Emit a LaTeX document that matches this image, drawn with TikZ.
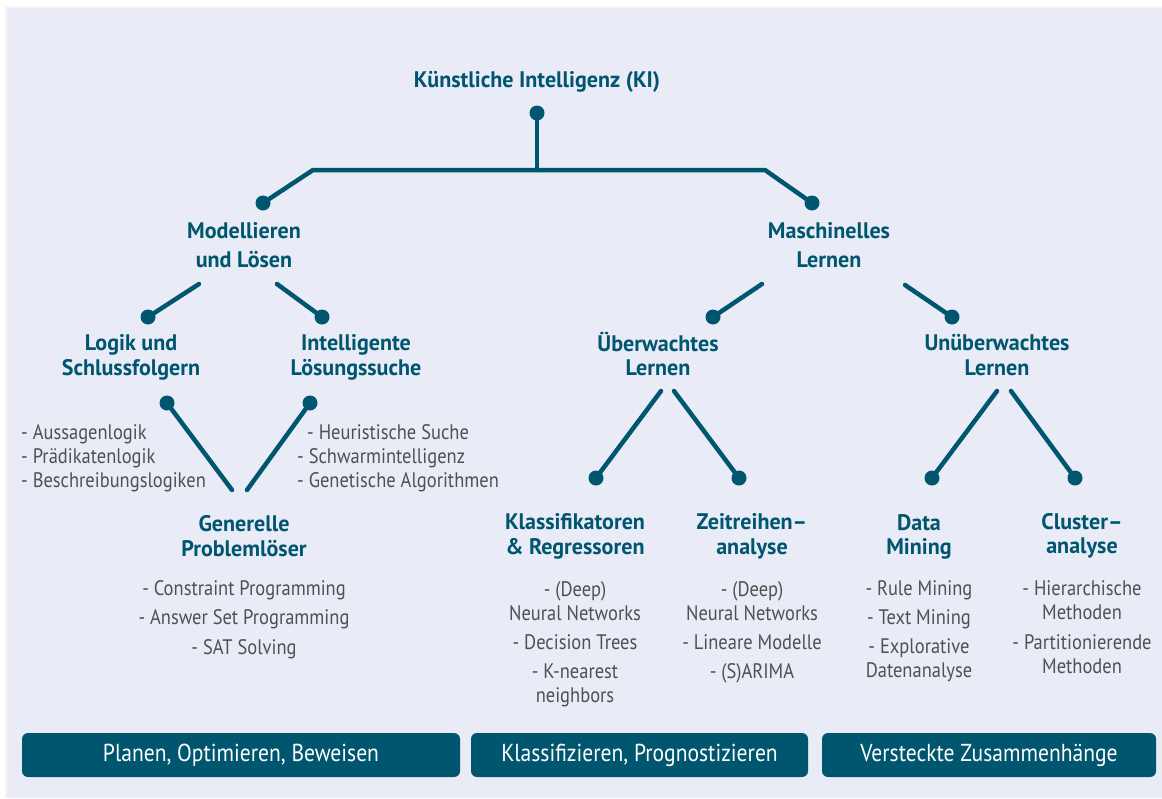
\documentclass[tikz,border=0pt]{standalone}
\usepackage{fontspec}
\setmainfont{PT Sans}
\newfontfamily\headfont{PT Sans}[FakeStretch=0.98]
\newfontfamily\listfont{PT Sans}[FakeStretch=0.88]
\definecolor{kiteal}{HTML}{00566F}
\definecolor{kibg}{HTML}{E9EBF6}
\definecolor{kigrey}{HTML}{505050}
\tikzset{
  head/.style={font=\headfont\bfseries\fontsize{22.5}{24.5}\selectfont, text=kiteal, align=center, inner sep=0pt},
  headtop/.style={head, font=\headfont\bfseries\fontsize{22.5}{29}\selectfont},
  item/.style={font=\listfont\fontsize{21}{24}\selectfont, text=kigrey, align=center, inner sep=0pt},
  dot/.style={circle, fill=kiteal, inner sep=0pt, minimum size=15pt},
  conn/.style={draw=kiteal, line width=4.5pt, line cap=round, line join=round},
  band/.style={fill=kiteal, rounded corners=6pt, inner sep=0pt, minimum height=44pt, text=white, font=\listfont\fontsize{24.5}{26}\selectfont},
}
\begin{document}
\begin{tikzpicture}[x=1pt,y=-1pt]
\useasboundingbox (0,0) rectangle (1162,798);
\fill[white] (0,0) rectangle (1162,798);
\fill[black!4] (5,6) rectangle (1162,798);
\fill[black!7] (7,8) rectangle (1162,798);
\fill[kibg] (8,9) rectangle (1162,798);

% headings
\node[head] (ki) at (537,82) {Künstliche Intelligenz (KI)};
\node[headtop] (ml) at (244,245.5) {Modellieren\\und Lösen};
\node[headtop] (ma) at (829,245.5) {Maschinelles\\Lernen};
\node[head] (lo) at (131,357.5) {Logik und\\Schlussfolgern};
\node[head] (il) at (356,357.5) {Intelligente\\Lösungssuche};
\node[head] (ue) at (658,354) {Überwachtes\\Lernen};
\node[head] (uu) at (997,355) {Unüberwachtes\\Lernen};
\node[head] (gp) at (244,536) {Generelle\\Problemlöser};
\node[head] (kr) at (575,536.5) {Klassifikatoren\\\& Regressoren};
\node[head] (za) at (752,536.5) {Zeitreihen–\\analyse};
\node[head] (dm) at (919,537) {Data\\Mining};
\node[head] (ca) at (1082,536) {Cluster–\\analyse};

% lists
\node[item, align=left, anchor=west] (lol) at (21,458) {- Aussagenlogik\\- Prädikatenlogik\\- Beschreibungslogiken};
\node[item, align=left, anchor=west] (ill) at (297,458) {\hspace*{10pt}- Heuristische Suche\\- Schwarmintelligenz\\- Genetische Algorithmen};
\node[item, font=\listfont\fontsize{21}{29.5}\selectfont] (gpl) at (244,619.5) {- Constraint Programming\\- Answer Set Programming\\- SAT Solving};
\node[item] (krl) at (575,644) {- (Deep)\\Neural Networks\\[5.5pt]- Decision Trees\\[4.5pt]- K-nearest\\neighbors};
\node[item] (zal) at (752,632) {- (Deep)\\Neural Networks\\[5.5pt]- Lineare Modelle\\[4.5pt]- (S)ARIMA};
\node[item] (dmi) at (919,631) {- Rule Mining\\[5pt]- Text Mining\\[5pt]- Explorative\\Datenanalyse};
\node[item] (cal) at (1082,627) {- Hierarchische\\Methoden\\[5.5pt]- Partitionierende\\Methoden};

% dots
\node[dot] (dki) at (537,113) {};
\node[dot] (dml) at (263,203) {};
\node[dot] (dma) at (812,203) {};
\node[dot] (dlo) at (148,317) {};
\node[dot] (dil) at (322,317) {};
\node[dot] (due) at (713,317) {};
\node[dot] (duu) at (952,317) {};
\node[dot] (dlob) at (167,403) {};
\node[dot] (dilb) at (310,403) {};
\node[dot] (dkr) at (596,478) {};
\node[dot] (dza) at (739,478) {};
\node[dot] (ddm) at (932,478) {};
\node[dot] (dca) at (1075,478) {};

% free ends
\coordinate (jki) at (537,170);
\coordinate (jl) at (313,170);
\coordinate (jr) at (765,170);
\coordinate (mla) at (199,284);
\coordinate (mlb) at (277,284);
\coordinate (maa) at (762,284);
\coordinate (mab) at (905,285);
\coordinate (gpa) at (232,490);
\coordinate (gpb) at (247,490);
\coordinate (uea) at (661,391);
\coordinate (ueb) at (674,391);
\coordinate (uua) at (997,391);
\coordinate (uub) at (1011,391);

% connectors
\draw[conn] (dki.center) -- (jki);
\draw[conn, line cap=butt] (dml.center) -- (jl) -- (jr) -- (dma.center);
\draw[conn] (mla) -- (dlo.center);
\draw[conn] (mlb) -- (dil.center);
\draw[conn] (maa) -- (due.center);
\draw[conn] (mab) -- (duu.center);
\draw[conn] (dlob.center) -- (gpa);
\draw[conn] (dilb.center) -- (gpb);
\draw[conn] (uea) -- (dkr.center);
\draw[conn] (ueb) -- (dza.center);
\draw[conn] (uua) -- (ddm.center);
\draw[conn] (uub) -- (dca.center);

% bands
\node[band, minimum width=438pt] (b1) at (241,755) {Planen, Optimieren, Beweisen};
\node[band, minimum width=337pt] (b2) at (639.5,755) {Klassifizieren, Prognostizieren};
\node[band, minimum width=334pt] (b3) at (989,755) {Versteckte Zusammenhänge};
\end{tikzpicture}
\end{document}
